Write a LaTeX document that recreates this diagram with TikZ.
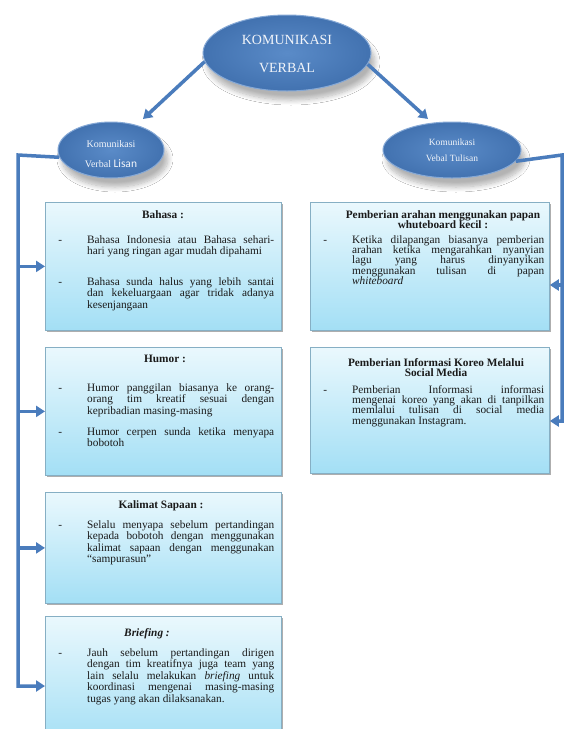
\documentclass[tikz,border=0pt]{standalone}
\usepackage{fontspec}
\setmainfont{Liberation Serif}
\newfontfamily\calibrifont{Carlito}
\usetikzlibrary{shapes.geometric,shadows,shadows.blur,arrows.meta,calc}
\definecolor{ellin}{HTML}{5A8BC8}
\definecolor{ellout}{HTML}{4272B0}
\definecolor{ellrim}{HTML}{86A9D6}
\definecolor{elltext}{HTML}{F2F5FA}
\definecolor{cardtop}{HTML}{EAF8FD}
\definecolor{cardbot}{HTML}{A3DFF5}
\definecolor{cardrim}{HTML}{86AFC4}
\definecolor{conncol}{HTML}{4A7CBC}
\definecolor{ink}{HTML}{1A1A1A}
\newcommand{\bfnt}{\fontsize{11.3}{11.5}\selectfont\lineskiplimit=-6pt\hyphenpenalty=10000}
\newcommand{\rfnt}{\fontsize{11.3}{10.4}\selectfont\lineskiplimit=-6pt\hyphenpenalty=10000}
\newcommand{\dsh}{\llap{-\hspace{25pt}}}
\begin{document}
\begin{tikzpicture}[x=1pt,y=-1pt,
  ell/.style={ellipse, inner sep=0pt, draw=ellrim, line width=1pt, inner color=ellin, outer color=ellout,
    blur shadow={shadow xshift=4pt, shadow yshift=-9pt, shadow blur steps=10, shadow opacity=30, shadow blur radius=5pt}},
  elltxt/.style={inner sep=0pt, align=center, text=elltext},
  card/.style={rectangle, anchor=north west, inner sep=0pt, draw=cardrim, line width=0.8pt, top color=cardtop, bottom color=cardbot,
    drop shadow={shadow xshift=1.5pt, shadow yshift=-2pt, opacity=0.45, fill=black!70}},
  ttl/.style={anchor=north, inner sep=0pt, align=center, text=ink, font=\rfnt\bfseries},
  itm/.style={anchor=north west, inner sep=0pt, align=justify, text=ink, font=\bfnt},
  ritm/.style={itm, font=\rfnt},
  conn/.style={draw=conncol, line width=3.5pt},
  arr/.style={conn, -{Triangle[length=9pt,width=11pt]}},
]
\path[use as bounding box] (0,0) rectangle (567,729);
\clip (0,0) rectangle (567,729);
\fill[white] (0,0) rectangle (567,729);

% ---------- boxes (left) ----------
\node[card, minimum width=236pt, minimum height=128pt] (b1) at (45,202) {};
\node[card, minimum width=236pt, minimum height=128pt] (b2) at (45,347) {};
\node[card, minimum width=236pt, minimum height=111pt] (b3) at (45,492) {};
\node[card, minimum width=236pt, minimum height=130pt] (b4) at (45,616) {};
% ---------- boxes (right) ----------
\node[card, minimum width=239pt, minimum height=128pt] (r1) at (310,202) {};
\node[card, minimum width=239pt, minimum height=126pt] (r2) at (310,347) {};

% ---------- texts left ----------
\node[ttl] (b1t) at (163,210) {Bahasa :};
\node[itm, text width=187pt] (b1a) at (87,235) {\noindent\dsh Bahasa Indonesia atau Bahasa sehari-\linebreak hari yang ringan agar mudah dipahami};
\node[itm, text width=187pt] (b1b) at (87,277) {\noindent\dsh Bahasa sunda halus yang lebih santai\linebreak dan kekeluargaan agar tridak adanya\linebreak kesenjangaan};

\node[ttl] (b2t) at (165,355) {Humor :};
\node[itm, text width=187pt] (b2a) at (87,383) {\noindent\dsh Humor panggilan biasanya ke orang-\linebreak orang tim kreatif sesuai dengan\linebreak kepribadian masing-masing};
\node[itm, text width=187pt] (b2b) at (87,427) {\noindent\dsh Humor cerpen sunda ketika menyapa\linebreak bobotoh};

\node[ttl] (b3t) at (161,500) {Kalimat Sapaan :};
\node[itm, text width=187pt] (b3a) at (87,520) {\noindent\dsh Selalu menyapa sebelum pertandingan\linebreak kepada bobotoh dengan menggunakan\linebreak kalimat sapaan dengan menggunakan\linebreak “sampurasun”};

\node[ttl] (b4t) at (147,628) {\itshape Briefing :};
\node[itm, text width=187pt] (b4a) at (87,648) {\noindent\dsh Jauh sebelum pertandingan dirigen\linebreak dengan tim kreatifnya juga team yang\linebreak lain selalu melakukan \textit{briefing} untuk\linebreak koordinasi mengenai masing-masing\linebreak tugas yang akan dilaksanakan.};

% ---------- texts right ----------
\node[ttl] (r1t) at (443,210) {Pemberian arahan menggunakan papan\\whuteboard kecil :};
\node[ritm, text width=192pt] (r1a) at (352,235) {\noindent\dsh Ketika dilapangan biasanya pemberian\linebreak arahan ketika mengarahkan nyanyian\linebreak lagu yang harus dinyanyikan\linebreak menggunakan tulisan di papan\linebreak \textit{whiteboard}};

\node[ttl] (r2t) at (436,358) {Pemberian Informasi Koreo Melalui\\Social Media};
\node[ritm, text width=192pt] (r2a) at (352,385) {\noindent\dsh Pemberian Informasi informasi\linebreak mengenai koreo yang akan di tanpilkan\linebreak memlalui tulisan di social media\linebreak menggunakan Instagram.};

% ---------- ellipses ----------
\node[ell, minimum width=168pt, minimum height=76pt] (k) at (287,53) {};
\node[elltxt, font=\fontsize{14}{28}\selectfont] (kt) at (287,54) {KOMUNIKASI\\VERBAL};
\node[ell, minimum width=106pt, minimum height=56pt] (lisan) at (111,150) {};
\node[elltxt, font=\fontsize{10}{19.5}\selectfont] (lisant) at (111,154) {Komunikasi\\Verbal {\calibrifont\fontsize{11.5}{19.5}\selectfont Lisan}};
\node[ell, minimum width=138pt, minimum height=56pt] (tul) at (452,150) {};
\node[elltxt, font=\fontsize{9.5}{16}\selectfont] (tult) at (452,150) {Komunikasi\\Vebal Tulisan};

% ---------- connectors ----------
\coordinate (tipL) at (143,119);
\coordinate (tipR) at (428,119);
\draw[arr] (k.186) -- (tipL);
\draw[arr] (k.352) -- (tipR);

\coordinate (lc) at (18,155);
\coordinate (lb) at (18,686);
\draw[arr, line join=miter] (lisan.188) -- (lc) -- (lb) -- (lb -| b4.west);
\draw[arr] (lc |- b1.west) -- (b1.west);
\draw[arr] (lc |- b2.west) -- (b2.west);
\draw[arr] (lc |- b3.west) -- (b3.west);

\coordinate (rc) at (562,155);
\coordinate (rb) at (562,421);
\coordinate (rm) at (562,285);
\draw[arr, line join=miter] (tul.350) -- (rc) -- (rb) -- (rb -| r2.east);
\draw[arr] (rm) -- (rm -| r1.east);
\end{tikzpicture}
\end{document}
